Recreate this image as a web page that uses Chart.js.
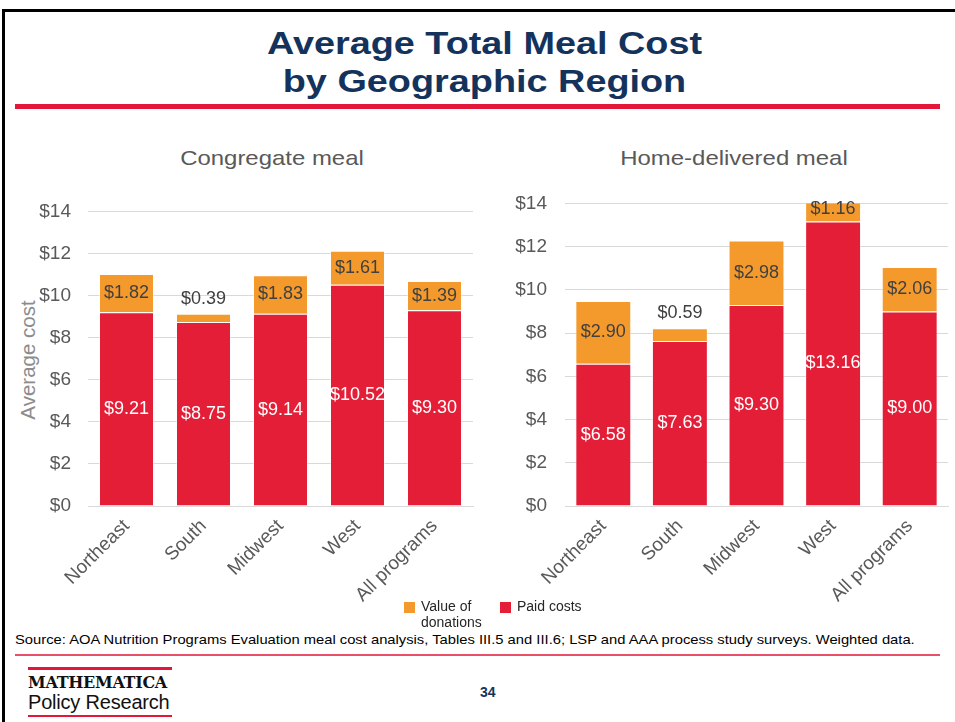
<!DOCTYPE html>
<html>
<head>
<meta charset="utf-8">
<script src="https://cdn.jsdelivr.net/npm/chart.js@4"></script>
<style>
  html, body { margin:0; padding:0; background:#fff; }
  body { width:955px; height:722px; position:relative; overflow:hidden; font-family:"Liberation Sans", Arial, sans-serif; }
  .frame { position:absolute; left:2px; top:9px; width:960px; height:720px; border-left:3px solid #000; border-top:3px solid #000; }
  .title { position:absolute; left:7px; width:955px; top:25px; text-align:center; color:#14335C; font-family:"Liberation Sans", Arial, sans-serif; font-weight:bold; font-size:31px; line-height:38px; transform:scaleX(1.22); transform-origin:center; }
  .redline { position:absolute; left:15px; width:925px; top:104px; height:5px; background:#E4173A; }
  .sub { position:absolute; top:146px; font-size:21px; color:#595959; text-align:center; width:300px; transform:scaleX(1.14); transform-origin:center; }
  .ytitle { position:absolute; left:28px; top:360px; font-size:20.5px; color:#8C8C8C; transform:translate(-50%,-50%) rotate(-90deg); white-space:nowrap; }
  canvas { position:absolute; }
  .legend { position:absolute; top:598px; font-size:14px; color:#262626; line-height:16px; }
  .sw { position:absolute; width:11px; height:11px; top:602px; }
  .source { position:absolute; left:15px; top:632px; font-size:13px; color:#000; white-space:nowrap; transform:scaleX(1.135); transform-origin:left center; }
  .srcline { position:absolute; left:15px; width:925px; top:654px; height:2px; background:#E8506A; }
  .logo1 { position:absolute; left:28px; top:667px; width:144px; height:3px; background:#E4173A; }
  .logo2 { position:absolute; left:28px; top:715px; width:144px; height:2px; background:#E4173A; }
  .mathe { position:absolute; left:28px; top:674px; font-family:"DejaVu Serif",serif; font-weight:bold; font-size:16px; line-height:18px; color:#111; letter-spacing:-0.3px; }
  .policy { position:absolute; left:28px; top:691px; font-family:"Liberation Sans", Arial, sans-serif; font-size:20px; line-height:22px; color:#111; letter-spacing:-0.2px; }
  .page { position:absolute; left:480px; top:684px; font-family:"Liberation Sans", Arial, sans-serif; font-weight:bold; font-size:14px; color:#14335C; }
</style>
</head>
<body>
<div class="frame"></div>
<div class="title">Average Total Meal Cost<br>by Geographic Region</div>
<div class="redline"></div>
<div class="sub" style="left:122px;">Congregate meal</div>
<div class="sub" style="left:584px;">Home-delivered meal</div>
<div class="ytitle">Average cost</div>
<canvas id="c1" width="480" height="447" style="left:0;top:183px;width:480px;height:447px;"></canvas>
<canvas id="c2" width="475" height="456" style="left:480px;top:174px;width:475px;height:456px;"></canvas>
<div class="sw" style="left:404px;background:#F49A2C;"></div>
<div class="legend" style="left:421px;">Value of<br>donations</div>
<div class="sw" style="left:500px;background:#E41E37;"></div>
<div class="legend" style="left:517px;">Paid costs</div>
<div class="source">Source: AOA Nutrition Programs Evaluation meal cost analysis, Tables III.5 and III.6; LSP and AAA process study surveys. Weighted data.</div>
<div class="srcline"></div>
<div class="logo1"></div>
<div class="mathe">MATHEMATICA</div>
<div class="policy">Policy Research</div>
<div class="logo2"></div>
<div class="page">34</div>
<script>
const regions = ["Northeast", "South", "Midwest", "West", "All programs"];
const congregatePaid = [9.21, 8.75, 9.14, 10.52, 9.30];
const congregateDonations = [1.82, 0.39, 1.83, 1.61, 1.39];
const homePaid = [6.58, 7.63, 9.30, 13.16, 9.00];
const homeDonations = [2.90, 0.59, 2.98, 1.16, 2.06];
const yTicks = [0, 2, 4, 6, 8, 10, 12, 14];
const seriesNames = ["Paid costs", "Value of donations"];

const RED = "#E41E37", ORANGE = "#F49A2C";

const labelPlugin = {
  id: "barLabels",
  afterDatasetsDraw(chart) {
    const ctx = chart.ctx;
    ctx.save();
    ctx.font = '18px "Liberation Sans", Arial, sans-serif';
    ctx.textAlign = "center";
    ctx.textBaseline = "middle";
    chart.data.datasets.forEach((ds, di) => {
      const meta = chart.getDatasetMeta(di);
      meta.data.forEach((el, i) => {
        const v = ds.data[i];
        const txt = "$" + v.toFixed(2);
        const h = el.base - el.y;
        let y = (el.y + el.base) / 2;
        if (di === 0) {
          ctx.fillStyle = "#FFFFFF";
        } else {
          ctx.fillStyle = "#404040";
          if (h < 22) y = el.y - 15;
        }
        ctx.fillText(txt, el.x, y);
      });
    });
    ctx.restore();
  }
};

function makeChart(id, paid, don, yWidth, tickPad, padTop, padRight, barPct) {
  return new Chart(document.getElementById(id), {
    type: "bar",
    data: {
      labels: regions,
      datasets: [
        { label: seriesNames[0], data: paid, backgroundColor: RED, borderColor: "rgba(255,255,255,0.45)", borderWidth: 1, barPercentage: barPct, categoryPercentage: 1 },
        { label: seriesNames[1], data: don, backgroundColor: ORANGE, borderColor: "rgba(255,255,255,0.45)", borderWidth: 1, barPercentage: barPct, categoryPercentage: 1 }
      ]
    },
    options: {
      responsive: false,
      animation: false,
      layout: { padding: { top: padTop, right: padRight, left: 0, bottom: 0 } },
      plugins: { legend: { display: false }, tooltip: { enabled: false } },
      scales: {
        x: {
          stacked: true,
          grid: { display: false, drawTicks: false },
          border: { display: true, color: "#D9D9D9" },
          ticks: { color: "#595959", font: { size: 19, family: '"Liberation Sans", Arial, sans-serif' }, maxRotation: 45, minRotation: 45, padding: 9 },
          afterFit(s) { s.height = 124; }
        },
        y: {
          stacked: true,
          min: 0, max: 14,
          afterBuildTicks(s) { s.ticks = yTicks.map(v => ({ value: v })); },
          grid: { color: "#D9D9D9", drawTicks: false },
          border: { display: false },
          ticks: { color: "#595959", padding: tickPad, font: { size: 19, family: '"Liberation Sans", Arial, sans-serif' }, callback: v => "$" + v },
          afterFit(s) { s.width = yWidth; }
        }
      }
    },
    plugins: [labelPlugin]
  });
}

makeChart("c1", congregatePaid, congregateDonations, 88, 17, 10, 7, 0.714);
makeChart("c2", homePaid, homeDonations, 85, 18, 10, 7, 0.73);
</script>
</body>
</html>
